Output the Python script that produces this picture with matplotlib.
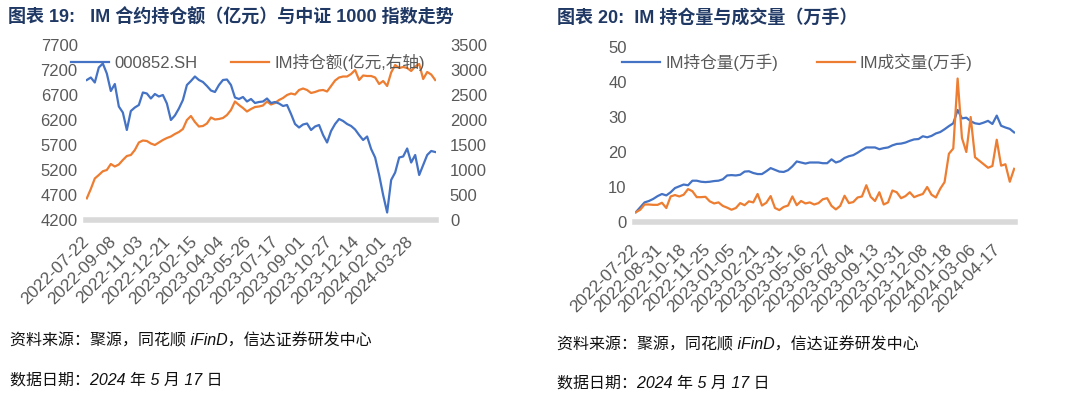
import numpy as np
import matplotlib
matplotlib.use('Agg')
import matplotlib.pyplot as plt
from matplotlib.lines import Line2D

plt.rcParams['font.family'] = ['Liberation Sans', 'Noto Sans CJK SC', 'DejaVu Sans']

# trading days from 2022-07-22 to 2024-05-17
n_days = 440

# chart 19: CSI 1000 index (left) and IM open interest value, 100m CNY (right axis)
csi1000 = [7000, 7050, 6950, 7250, 7330, 7130, 6780, 6920, 6470, 6350,
           6000, 6380, 6450, 6500, 6750, 6730, 6630, 6720, 6670, 6700,
           6530, 6200, 6290, 6430, 6600, 6900, 6980, 7070, 7000, 6960,
           6880, 6790, 6760, 6900, 7000, 7010, 6900, 6650, 6620, 6660,
           6570, 6620, 6540, 6560, 6570, 6630, 6540, 6560, 6530, 6480,
           6500, 6320, 6120, 6050, 6110, 6130, 6000, 6070, 6100, 5900,
           5750, 5980, 6120, 6220, 6180, 6120, 6080, 6010, 5900, 5800,
           5870, 5620, 5450, 5100, 4700, 4350, 5000, 5150, 5450, 5470,
           5630, 5350, 5500, 5100, 5300, 5500, 5580, 5560]
im_value = [433, 620, 830, 900, 975, 1000, 1120, 1070, 1110, 1200,
            1280, 1300, 1400, 1550, 1590, 1580, 1530, 1500, 1550, 1600,
            1640, 1670, 1720, 1760, 1820, 2000, 2080, 1960, 1870, 1880,
            1930, 2050, 2010, 2020, 2040, 2100, 2200, 2370, 2300, 2240,
            2170, 2220, 2260, 2270, 2290, 2370, 2310, 2340, 2400, 2440,
            2500, 2530, 2510, 2600, 2630, 2600, 2540, 2560, 2590, 2600,
            2570, 2680, 2790, 2850, 2870, 2870, 2920, 3000, 2800, 2890,
            2880, 2880, 2850, 2720, 2780, 2680, 2950, 3100, 3040, 3060,
            3040, 2980, 3070, 3120, 2820, 2960, 2910, 2800]
ticks_19 = ['2022-07-22', '2022-09-08', '2022-11-03', '2022-12-21', '2023-02-15',
            '2023-04-04', '2023-05-26', '2023-07-17', '2023-09-01', '2023-10-27',
            '2023-12-14', '2024-02-01', '2024-03-28']

# chart 20: IM open interest and volume, 10k lots
im_oi = [2.8, 4.2, 5.6, 6.0, 6.6, 7.4, 8.0, 7.6, 8.5, 9.7,
         10.2, 10.7, 10.5, 11.8, 11.8, 11.5, 11.4, 11.5, 11.7, 11.8,
         12.2, 13.3, 13.4, 13.3, 13.5, 14.4, 14.5, 14.0, 13.7, 13.7,
         14.5, 15.4, 14.9, 14.4, 14.3, 14.8, 15.9, 17.3, 17.0, 16.7,
         17.0, 17.0, 17.0, 16.8, 16.8, 17.9, 17.0, 17.4, 18.3, 18.8,
         19.1, 19.8, 20.6, 21.3, 21.3, 21.3, 20.8, 21.1, 21.3, 21.9,
         22.3, 22.4, 22.7, 23.2, 23.6, 23.7, 24.5, 24.2, 24.6, 25.3,
         25.7, 26.5, 27.4, 28.2, 32.0, 29.6, 29.8, 28.8, 28.2, 28.0,
         28.4, 28.9, 28.0, 30.4, 27.5, 27.0, 26.6, 25.6]
im_vol = [2.8, 3.5, 5.0, 5.0, 4.9, 4.9, 5.5, 4.0, 7.3, 7.7,
          7.3, 7.8, 9.4, 8.8, 7.1, 7.1, 7.2, 5.9, 5.3, 5.6,
          4.6, 4.1, 3.5, 4.0, 5.4, 4.8, 5.9, 5.6, 8.0, 4.7,
          5.5, 7.4, 4.0, 3.4, 4.3, 4.7, 7.3, 4.8, 6.0, 5.3,
          5.6, 5.0, 5.4, 6.5, 6.8, 4.6, 3.6, 4.6, 7.5, 5.4,
          5.7, 7.0, 7.3, 10.5, 7.2, 6.0, 8.5, 5.0, 5.6, 9.0,
          8.5, 6.8, 7.4, 8.5, 7.1, 7.6, 8.0, 10.0, 7.8, 7.0,
          9.5, 11.4, 19.5, 21.0, 41.0, 24.0, 20.0, 30.0, 18.5, 17.5,
          16.5, 15.5, 16.0, 23.5, 16.1, 16.5, 11.5, 15.2]
ticks_20 = ['2022-07-22', '2022-08-31', '2022-10-18', '2022-11-25', '2023-01-05',
            '2023-02-21', '2023-03-31', '2023-05-16', '2023-06-27', '2023-08-04',
            '2023-09-13', '2023-10-31', '2023-12-08', '2024-01-18', '2024-03-06',
            '2024-04-17']

BLUE = '#4472C4'
ORANGE = '#ED7D31'
GREY_TXT = '#595959'
TITLE_C = '#1F3864'
FS = 12


def style_axis(ax, tick_labels, step, pad):
    for s in ax.spines.values():
        s.set_visible(False)
    ax.spines['bottom'].set_visible(True)
    ax.spines['bottom'].set_color('#D9D9D9')
    ax.spines['bottom'].set_linewidth(4)
    ax.set_xlim(-1, n_days)
    ax.set_xticks(np.arange(len(tick_labels)) * step)
    ax.set_xticklabels(tick_labels, rotation=45, ha='right', va='center',
                       rotation_mode='anchor')
    ax.tick_params(axis='x', length=0, pad=pad, labelsize=12.5, labelcolor=GREY_TXT)
    ax.tick_params(axis='y', length=0, pad=6, labelsize=FS, labelcolor=GREY_TXT)


fig = plt.figure(figsize=(10.8, 4.03), dpi=100)

# ---- chart 19
ax1 = fig.add_axes([86 / 1080, 1 - 220 / 403, 350 / 1080, 175 / 403])
ax2 = ax1.twinx()
x19 = np.linspace(0, n_days - 1, len(csi1000))
ax1.plot(x19, csi1000, color=BLUE, lw=1.6)
ax2.plot(x19, im_value, color=ORANGE, lw=1.6)
ax1.set_ylim(4200, 7700)
ax1.set_yticks(np.arange(4200, 7701, 500))
ax2.set_ylim(0, 3500)
ax2.set_yticks(np.arange(0, 3501, 500))
style_axis(ax1, ticks_19, 34, 14)
for s in ax2.spines.values():
    s.set_visible(False)
ax2.tick_params(axis='y', length=0, pad=10, labelsize=FS, labelcolor=GREY_TXT)
ax1.set_zorder(ax2.get_zorder() + 1)
ax1.patch.set_visible(False)

h19 = [Line2D([], [], color=BLUE, lw=1.6), Line2D([], [], color=ORANGE, lw=1.6)]
fig.legend(h19, ['000852.SH', 'IM持仓额(亿元,右轴)'], loc='center left',
           bbox_to_anchor=(71 / 1080, 1 - 62 / 403), ncol=2, frameon=False,
           fontsize=FS, labelcolor=GREY_TXT, handlelength=2.3,
           handletextpad=0.3, columnspacing=2.0, borderpad=0, borderaxespad=0)

fig.text(8 / 1080, 1 - 18 / 403, '图表 19:   IM 合约持仓额（亿元）与中证 1000 指数走势',
         fontsize=13, fontweight='bold', color=TITLE_C, va='center')

# ---- chart 20
ax3 = fig.add_axes([635 / 1080, 1 - 222 / 403, 380 / 1080, 175 / 403])
x20 = np.linspace(0, n_days - 1, len(im_oi))
ax3.plot(x20, im_oi, color=BLUE, lw=1.6)
ax3.plot(x20, im_vol, color=ORANGE, lw=1.6)
ax3.set_ylim(0, 50)
ax3.set_yticks(np.arange(0, 51, 10))
style_axis(ax3, ticks_20, 28, 18)

h20 = [Line2D([], [], color=BLUE, lw=1.6), Line2D([], [], color=ORANGE, lw=1.6)]
fig.legend(h20, ['IM持仓量(万手)', 'IM成交量(万手)'], loc='center left',
           bbox_to_anchor=(622 / 1080, 1 - 62 / 403), ncol=2, frameon=False,
           fontsize=FS, labelcolor=GREY_TXT, handlelength=2.3,
           handletextpad=0.3, columnspacing=2.3, borderpad=0, borderaxespad=0)

fig.text(557 / 1080, 1 - 18 / 403, '图表 20:  IM 持仓量与成交量（万手）',
         fontsize=13, fontweight='bold', color=TITLE_C, va='center')

# ---- footnotes
for x0, y1, y2 in [(10, 341, 380), (557, 345, 383)]:
    fig.text(x0 / 1080, 1 - y1 / 403, '资料来源：聚源，同花顺 iFinD，信达证券研发中心',
             fontsize=11.5, style='italic', color='#111111', va='center')
    fig.text(x0 / 1080, 1 - y2 / 403, '数据日期：2024 年 5 月 17 日',
             fontsize=11.5, style='italic', color='#111111', va='center')

fig.savefig('out.png', dpi=100)
